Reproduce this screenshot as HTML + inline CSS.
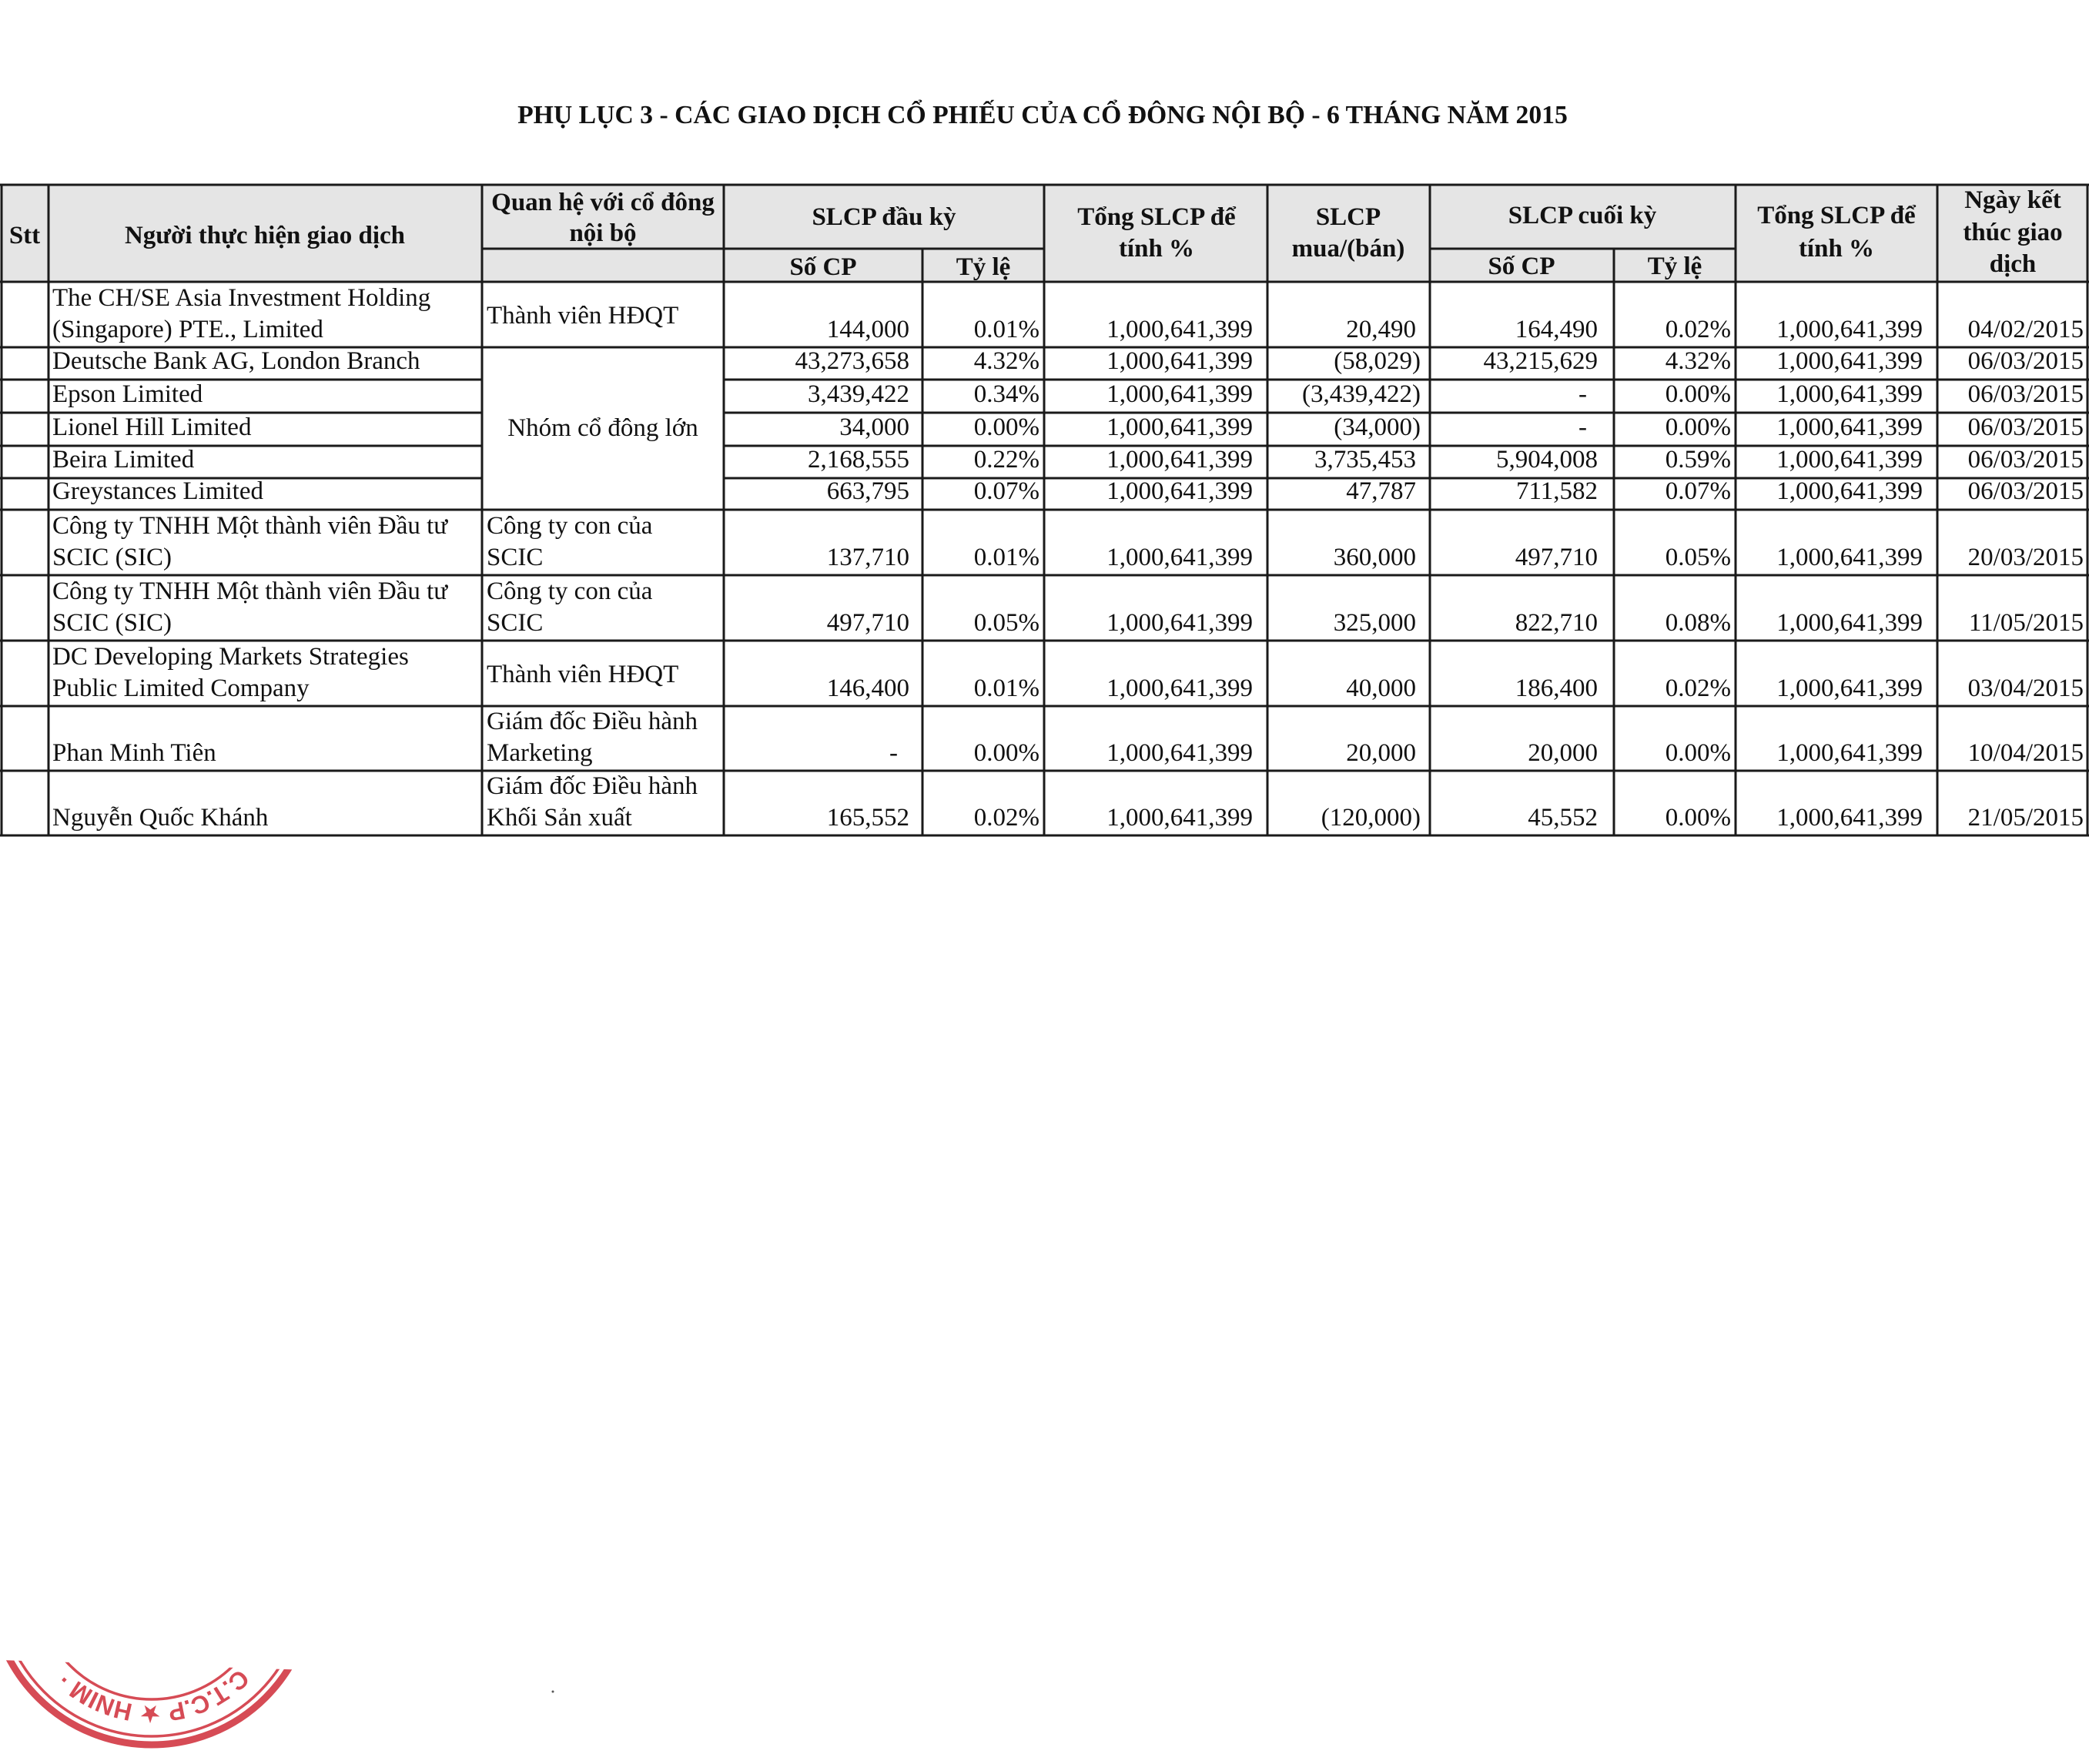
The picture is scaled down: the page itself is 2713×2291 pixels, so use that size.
<!DOCTYPE html>
<html>
<head>
<meta charset="utf-8">
<style>
  html, body { margin:0; padding:0; background:#fff; }
  body { width:2713px; height:2291px; overflow:hidden; }
  svg { display:block; }
</style>
</head>
<body>
<svg xmlns="http://www.w3.org/2000/svg" width="2713" height="2291" viewBox="0 0 2713 2291">
  <rect x="0" y="0" width="2713" height="2291" fill="#ffffff"/>

  <!-- Title -->
  <text x="1354" y="160" text-anchor="middle" font-family="Liberation Serif, serif" font-weight="bold" font-size="33.7" fill="#111">PHỤ LỤC 3 - CÁC GIAO DỊCH CỔ PHIẾU CỦA CỔ ĐÔNG NỘI BỘ - 6 THÁNG NĂM 2015</text>

  <!-- Header background -->
  <rect x="1" y="240" width="2710" height="126" fill="#e5e5e5"/>

  <!-- Table lines -->
  <g stroke="#1a1a1a" stroke-width="3" fill="none">
    <!-- horizontals -->
    <line x1="0" y1="240" x2="2713" y2="240"/>
    <line x1="626" y1="323" x2="1356" y2="323"/>
    <line x1="1857" y1="323" x2="2254" y2="323"/>
    <line x1="0" y1="366" x2="2713" y2="366"/>
    <line x1="0" y1="451" x2="2713" y2="451"/>
    <line x1="0" y1="493" x2="626" y2="493"/><line x1="940" y1="493" x2="2713" y2="493"/>
    <line x1="0" y1="536" x2="626" y2="536"/><line x1="940" y1="536" x2="2713" y2="536"/>
    <line x1="0" y1="579" x2="626" y2="579"/><line x1="940" y1="579" x2="2713" y2="579"/>
    <line x1="0" y1="621" x2="626" y2="621"/><line x1="940" y1="621" x2="2713" y2="621"/>
    <line x1="0" y1="662" x2="2713" y2="662"/>
    <line x1="0" y1="747" x2="2713" y2="747"/>
    <line x1="0" y1="832" x2="2713" y2="832"/>
    <line x1="0" y1="917" x2="2713" y2="917"/>
    <line x1="0" y1="1001" x2="2713" y2="1001"/>
    <line x1="0" y1="1085" x2="2713" y2="1085"/>
    <!-- verticals -->
    <line x1="2" y1="240" x2="2" y2="1086"/>
    <line x1="63" y1="240" x2="63" y2="1086"/>
    <line x1="626" y1="240" x2="626" y2="1086"/>
    <line x1="940" y1="240" x2="940" y2="1086"/>
    <line x1="1198" y1="323" x2="1198" y2="1086"/>
    <line x1="1356" y1="240" x2="1356" y2="1086"/>
    <line x1="1646" y1="240" x2="1646" y2="1086"/>
    <line x1="1857" y1="240" x2="1857" y2="1086"/>
    <line x1="2096" y1="323" x2="2096" y2="1086"/>
    <line x1="2254" y1="240" x2="2254" y2="1086"/>
    <line x1="2516" y1="240" x2="2516" y2="1086"/>
    <line x1="2711" y1="240" x2="2711" y2="1086"/>
  </g>

  <!-- Header text -->
  <g font-family="Liberation Serif, serif" font-weight="bold" font-size="33" fill="#111" text-anchor="middle">
    <text x="32" y="316">Stt</text>
    <text x="344" y="316">Người thực hiện giao dịch</text>
    <text x="783" y="273">Quan hệ với cổ đông</text>
    <text x="783" y="313">nội bộ</text>
    <text x="1148" y="292">SLCP đầu kỳ</text>
    <text x="1069" y="357">Số CP</text>
    <text x="1277" y="357">Tỷ lệ</text>
    <text x="1502" y="292">Tổng SLCP để</text>
    <text x="1502" y="333">tính %</text>
    <text x="1751" y="292">SLCP</text>
    <text x="1751" y="333">mua/(bán)</text>
    <text x="2055" y="290">SLCP cuối kỳ</text>
    <text x="1976" y="356">Số CP</text>
    <text x="2175" y="356">Tỷ lệ</text>
    <text x="2385" y="290">Tổng SLCP để</text>
    <text x="2385" y="333">tính %</text>
    <text x="2614" y="270">Ngày kết</text>
    <text x="2614" y="312">thúc giao</text>
    <text x="2614" y="353">dịch</text>
  </g>

  <!-- Body text -->
  <g font-family="Liberation Serif, serif" font-size="33" fill="#111">
    <!-- Names (left) -->
    <g text-anchor="start">
      <text x="68" y="397">The CH/SE Asia Investment Holding</text>
      <text x="68" y="438">(Singapore) PTE., Limited</text>
      <text x="68" y="479">Deutsche Bank AG, London Branch</text>
      <text x="68" y="522">Epson Limited</text>
      <text x="68" y="565">Lionel Hill Limited</text>
      <text x="68" y="607">Beira Limited</text>
      <text x="68" y="648">Greystances Limited</text>
      <text x="68" y="693">Công ty TNHH Một thành viên Đầu tư</text>
      <text x="68" y="734">SCIC (SIC)</text>
      <text x="68" y="778">Công ty TNHH Một thành viên Đầu tư</text>
      <text x="68" y="819">SCIC (SIC)</text>
      <text x="68" y="863">DC Developing Markets Strategies</text>
      <text x="68" y="904">Public Limited Company</text>
      <text x="68" y="988">Phan Minh Tiên</text>
      <text x="68" y="1072">Nguyễn Quốc Khánh</text>

      <!-- Relationship -->
      <text x="632" y="420">Thành viên HĐQT</text>
      <text x="632" y="693">Công ty con của</text>
      <text x="632" y="734">SCIC</text>
      <text x="632" y="778">Công ty con của</text>
      <text x="632" y="819">SCIC</text>
      <text x="632" y="886">Thành viên HĐQT</text>
      <text x="632" y="947">Giám đốc Điều hành</text>
      <text x="632" y="988">Marketing</text>
      <text x="632" y="1031">Giám đốc Điều hành</text>
      <text x="632" y="1072">Khối Sản xuất</text>
    </g>
    <text x="783" y="566" text-anchor="middle">Nhóm cổ đông lớn</text>

    <!-- Numbers (right aligned) -->
    <g text-anchor="end">
      <!-- Row 1 -->
      <text x="1181" y="438">144,000</text>
      <text x="1350" y="438">0.01%</text>
      <text x="1627" y="438">1,000,641,399</text>
      <text x="1839" y="438">20,490</text>
      <text x="2075" y="438">164,490</text>
      <text x="2248" y="438">0.02%</text>
      <text x="2497" y="438">1,000,641,399</text>
      <text x="2706" y="438">04/02/2015</text>
      <!-- Row 2 -->
      <text x="1181" y="479">43,273,658</text>
      <text x="1350" y="479">4.32%</text>
      <text x="1627" y="479">1,000,641,399</text>
      <text x="1845" y="479">(58,029)</text>
      <text x="2075" y="479">43,215,629</text>
      <text x="2248" y="479">4.32%</text>
      <text x="2497" y="479">1,000,641,399</text>
      <text x="2706" y="479">06/03/2015</text>
      <!-- Row 3 -->
      <text x="1181" y="522">3,439,422</text>
      <text x="1350" y="522">0.34%</text>
      <text x="1627" y="522">1,000,641,399</text>
      <text x="1845" y="522">(3,439,422)</text>
      <text x="2061" y="522">-</text>
      <text x="2248" y="522">0.00%</text>
      <text x="2497" y="522">1,000,641,399</text>
      <text x="2706" y="522">06/03/2015</text>
      <!-- Row 4 -->
      <text x="1181" y="565">34,000</text>
      <text x="1350" y="565">0.00%</text>
      <text x="1627" y="565">1,000,641,399</text>
      <text x="1845" y="565">(34,000)</text>
      <text x="2061" y="565">-</text>
      <text x="2248" y="565">0.00%</text>
      <text x="2497" y="565">1,000,641,399</text>
      <text x="2706" y="565">06/03/2015</text>
      <!-- Row 5 -->
      <text x="1181" y="607">2,168,555</text>
      <text x="1350" y="607">0.22%</text>
      <text x="1627" y="607">1,000,641,399</text>
      <text x="1839" y="607">3,735,453</text>
      <text x="2075" y="607">5,904,008</text>
      <text x="2248" y="607">0.59%</text>
      <text x="2497" y="607">1,000,641,399</text>
      <text x="2706" y="607">06/03/2015</text>
      <!-- Row 6 -->
      <text x="1181" y="648">663,795</text>
      <text x="1350" y="648">0.07%</text>
      <text x="1627" y="648">1,000,641,399</text>
      <text x="1839" y="648">47,787</text>
      <text x="2075" y="648">711,582</text>
      <text x="2248" y="648">0.07%</text>
      <text x="2497" y="648">1,000,641,399</text>
      <text x="2706" y="648">06/03/2015</text>
      <!-- Row 7 -->
      <text x="1181" y="734">137,710</text>
      <text x="1350" y="734">0.01%</text>
      <text x="1627" y="734">1,000,641,399</text>
      <text x="1839" y="734">360,000</text>
      <text x="2075" y="734">497,710</text>
      <text x="2248" y="734">0.05%</text>
      <text x="2497" y="734">1,000,641,399</text>
      <text x="2706" y="734">20/03/2015</text>
      <!-- Row 8 -->
      <text x="1181" y="819">497,710</text>
      <text x="1350" y="819">0.05%</text>
      <text x="1627" y="819">1,000,641,399</text>
      <text x="1839" y="819">325,000</text>
      <text x="2075" y="819">822,710</text>
      <text x="2248" y="819">0.08%</text>
      <text x="2497" y="819">1,000,641,399</text>
      <text x="2706" y="819">11/05/2015</text>
      <!-- Row 9 -->
      <text x="1181" y="904">146,400</text>
      <text x="1350" y="904">0.01%</text>
      <text x="1627" y="904">1,000,641,399</text>
      <text x="1839" y="904">40,000</text>
      <text x="2075" y="904">186,400</text>
      <text x="2248" y="904">0.02%</text>
      <text x="2497" y="904">1,000,641,399</text>
      <text x="2706" y="904">03/04/2015</text>
      <!-- Row 10 -->
      <text x="1166" y="988">-</text>
      <text x="1350" y="988">0.00%</text>
      <text x="1627" y="988">1,000,641,399</text>
      <text x="1839" y="988">20,000</text>
      <text x="2075" y="988">20,000</text>
      <text x="2248" y="988">0.00%</text>
      <text x="2497" y="988">1,000,641,399</text>
      <text x="2706" y="988">10/04/2015</text>
      <!-- Row 11 -->
      <text x="1181" y="1072">165,552</text>
      <text x="1350" y="1072">0.02%</text>
      <text x="1627" y="1072">1,000,641,399</text>
      <text x="1845" y="1072">(120,000)</text>
      <text x="2075" y="1072">45,552</text>
      <text x="2248" y="1072">0.00%</text>
      <text x="2497" y="1072">1,000,641,399</text>
      <text x="2706" y="1072">21/05/2015</text>
    </g>
  </g>

  <!-- Stamp (partial, bottom-left) -->
  <defs>
    <clipPath id="sc"><polygon points="0,2156 430,2170 430,2291 0,2291"/></clipPath>
    <path id="tp" d="M 333.8 2136 A 158 158 0 0 1 41.4 2084.4" fill="none"/>
  </defs>
  <g clip-path="url(#sc)">
    <g fill="none" stroke="#d64b55">
      <circle cx="197" cy="2057" r="209" stroke-width="9"/>
      <circle cx="197" cy="2057" r="198" stroke-width="3.5"/>
      <circle cx="197" cy="2057" r="150" stroke-width="3.5"/>
    </g>
    <text font-family="Liberation Sans, DejaVu Sans, sans-serif" font-weight="bold" font-size="32" fill="#d64b55"><textPath href="#tp" startOffset="38" textLength="250" lengthAdjust="spacing">C.T.C.P ★ HNIM ·</textPath></text>
  </g>
  <circle cx="718" cy="2197" r="1.5" fill="#555"/>
</svg>
</body>
</html>
